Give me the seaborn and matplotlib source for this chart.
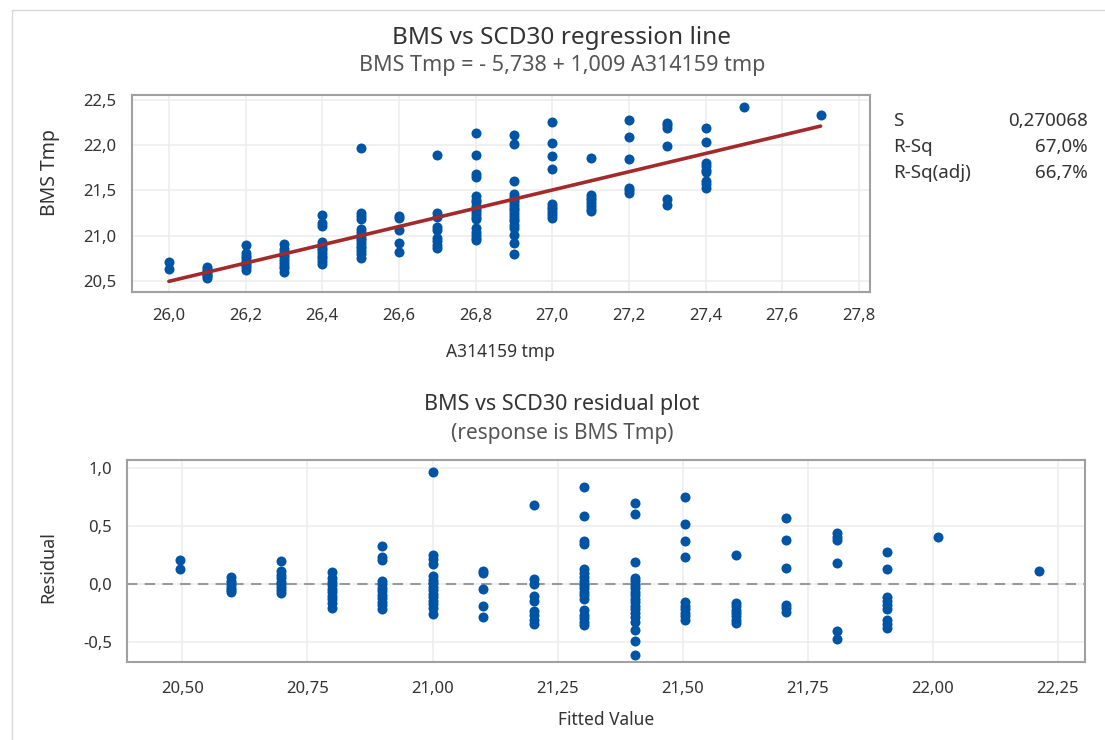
import numpy as np
import pandas as pd
import matplotlib
matplotlib.use("Agg")
import matplotlib.pyplot as plt
import seaborn as sns
from matplotlib.ticker import FuncFormatter, FixedLocator
from matplotlib.lines import Line2D

# ---------------- data ----------------
x_levels = [26.0, 26.1, 26.2, 26.3, 26.4, 26.5, 26.6, 26.7, 26.8, 26.9,
            27.0, 27.1, 27.2, 27.3, 27.4, 27.5, 27.7]
bms_26_0 = [20.71, 20.63]
bms_26_1 = [20.66, 20.63, 20.61, 20.59, 20.57, 20.55, 20.53]
bms_26_2 = [20.90, 20.81, 20.78, 20.75, 20.72, 20.70, 20.68, 20.65, 20.62]
bms_26_3 = [20.91, 20.85, 20.82, 20.79, 20.76, 20.73, 20.70, 20.67, 20.64, 20.60]
bms_26_4 = [21.23, 21.14, 21.11, 20.93, 20.90, 20.87, 20.84, 20.81, 20.78,
            20.75, 20.72, 20.69]
bms_26_5 = [21.97, 21.25, 21.22, 21.18, 21.07, 21.04, 21.01, 20.98, 20.95,
            20.92, 20.89, 20.86, 20.83, 20.80, 20.75]
bms_26_6 = [21.22, 21.20, 21.06, 20.92, 20.82]
bms_26_7 = [21.89, 21.25, 21.21, 21.10, 21.06, 20.97, 20.94, 20.90, 20.86]
bms_26_8 = [22.14, 21.89, 21.68, 21.65, 21.44, 21.40, 21.37, 21.33, 21.30,
            21.27, 21.24, 21.21, 21.18, 21.08, 21.04, 21.01, 20.98, 20.95]
bms_26_9 = [22.11, 22.01, 21.60, 21.46, 21.43, 21.40, 21.37, 21.34, 21.31,
            21.28, 21.25, 21.22, 21.19, 21.16, 21.12, 21.08, 21.01, 20.92, 20.80]
bms_27_0 = [22.26, 22.03, 21.88, 21.74, 21.35, 21.32, 21.29, 21.26, 21.23, 21.20]
bms_27_1 = [21.86, 21.45, 21.42, 21.39, 21.36, 21.33, 21.30, 21.27]
bms_27_2 = [22.28, 22.09, 21.85, 21.53, 21.50, 21.47]
bms_27_3 = [22.25, 22.22, 22.19, 21.99, 21.41, 21.34]
bms_27_4 = [22.19, 22.04, 21.80, 21.77, 21.73, 21.70, 21.60, 21.57, 21.53]
bms_27_5 = [22.42]
bms_27_7 = [22.33]
bms_groups = [bms_26_0, bms_26_1, bms_26_2, bms_26_3, bms_26_4, bms_26_5,
              bms_26_6, bms_26_7, bms_26_8, bms_26_9, bms_27_0, bms_27_1,
              bms_27_2, bms_27_3, bms_27_4, bms_27_5, bms_27_7]

intercept = -5.738
slope = 1.009

stats_labels = ["S", "R-Sq", "R-Sq(adj)"]
stats_values = ["0,270068", "67,0%", "66,7%"]

top_xticks = [26.0, 26.2, 26.4, 26.6, 26.8, 27.0, 27.2, 27.4, 27.6, 27.8]
top_yticks = [20.5, 21.0, 21.5, 22.0, 22.5]
res_xticks = [20.50, 20.75, 21.00, 21.25, 21.50, 21.75, 22.00, 22.25]
res_yticks = [-0.5, 0.0, 0.5, 1.0]

title_top = "BMS vs SCD30 regression line"
subtitle_top = "BMS Tmp = - 5,738 + 1,009 A314159 tmp"
title_bot = "BMS vs SCD30 residual plot"
subtitle_bot = "(response is BMS Tmp)"

# ---------------- derived tables ----------------
rows = [(x, y) for x, ys in zip(x_levels, bms_groups) for y in ys]
df = pd.DataFrame(rows, columns=["A314159 tmp", "BMS Tmp"])
df["Fitted Value"] = intercept + slope * df["A314159 tmp"]
df["Residual"] = df["BMS Tmp"] - df["Fitted Value"]
line_df = pd.DataFrame({"x": [min(x_levels), max(x_levels)]})
line_df["y"] = intercept + slope * line_df["x"]

# ---------------- style ----------------
sns.set_theme(style="white")
plt.rcParams["font.family"] = ["Noto Sans", "DejaVu Sans"]

BLUE = "#0054A6"
RED = "#A32A2A"
SPINE = "#A0A0A0"
GRID = "#EDEDED"
TXT = "#333333"

fig = plt.figure(figsize=(11.05, 7.40), dpi=100)
W, H = 1105.0, 740.0

def ax_rect(l, t, r, b):
    return [l / W, 1 - b / H, (r - l) / W, (b - t) / H]

ax1 = fig.add_axes(ax_rect(131.7, 95, 870, 292.3))
ax2 = fig.add_axes(ax_rect(127.3, 460, 1085, 662))

def comma_fmt(nd):
    return FuncFormatter(lambda v, p: f"{v:.{nd}f}".replace(".", ","))

def style_ax(ax, xt, yt, xnd, ynd, xpad):
    ax.xaxis.set_major_locator(FixedLocator(xt))
    ax.yaxis.set_major_locator(FixedLocator(yt))
    ax.xaxis.set_major_formatter(comma_fmt(xnd))
    ax.yaxis.set_major_formatter(comma_fmt(ynd))
    ax.grid(True, color=GRID, lw=1.2, zorder=0)
    ax.set_axisbelow(True)
    for s in ax.spines.values():
        s.set_color(SPINE)
        s.set_linewidth(1.5)
    ax.tick_params(axis="both", direction="out", length=5, width=1,
                   color="#888888", labelsize=12, labelcolor=TXT, pad=6)
    ax.tick_params(axis="x", pad=xpad)

# ---- top: regression ----
sns.scatterplot(data=df, x="A314159 tmp", y="BMS Tmp", ax=ax1, color=BLUE,
                s=52, linewidth=0, zorder=3)
sns.lineplot(data=line_df, x="x", y="y", ax=ax1, color=RED, lw=2.6, zorder=4)
ax1.set_xlim(25.903, 27.829)
ax1.set_ylim(20.375, 22.555)
style_ax(ax1, top_xticks, top_yticks, 1, 1, 6)
ax1.set_xlabel("A314159 tmp", fontsize=12.5, color=TXT)
ax1.set_ylabel("BMS Tmp", fontsize=14, color=TXT)
ax1.xaxis.set_label_coords(0.5, (292.3 - 352) / 197.3)
ax1.xaxis.label.set_va("center")
ax1.yaxis.set_label_coords((50 - 131.7) / 738.3, (292.3 - 172) / 197.3)
ax1.yaxis.label.set_va("center")

# ---- bottom: residuals ----
ax2.axhline(0, color="#9A9A9A", lw=1.5, ls=(0, (5, 3.5)), zorder=2)
sns.scatterplot(data=df, x="Fitted Value", y="Residual", ax=ax2, color=BLUE,
                s=52, linewidth=0, zorder=3)
ax2.set_xlim(20.39, 22.304)
ax2.set_ylim(-0.668, 1.072)
style_ax(ax2, res_xticks, res_yticks, 2, 1, 9)
ax2.set_xlabel("Fitted Value", fontsize=12.5, color=TXT)
ax2.set_ylabel("Residual", fontsize=13, color=TXT)
ax2.xaxis.set_label_coords(0.5, (662 - 720) / 202.0)
ax2.xaxis.label.set_va("center")
ax2.yaxis.set_label_coords((48 - 127.3) / 957.7, (662 - 567) / 202.0)
ax2.yaxis.label.set_va("center")

# ---- titles ----
cx = 562 / W
fig.text(cx, 1 - 38 / H, title_top, ha="center", va="center", fontsize=17.5, color=TXT)
fig.text(cx, 1 - 66 / H, subtitle_top, ha="center", va="center", fontsize=15.5, color="#555555")
fig.text(cx, 1 - 405 / H, title_bot, ha="center", va="center", fontsize=15.5, color=TXT)
fig.text(cx, 1 - 433 / H, subtitle_bot, ha="center", va="center", fontsize=15, color="#555555")

# ---- stats box ----
for i, (lab, val) in enumerate(zip(stats_labels, stats_values)):
    yy = 1 - (121 + 26 * i) / H
    fig.text(893 / W, yy, lab, ha="left", va="center", fontsize=13.5, color=TXT)
    fig.text(1088 / W, yy, val, ha="right", va="center", fontsize=13.5, color=TXT)

# ---- screenshot frame lines ----
fig.add_artist(Line2D([12 / W, 12 / W], [0, 1 - 10 / H], transform=fig.transFigure,
                      color="#D8D8D8", lw=1))
fig.add_artist(Line2D([12 / W, 1], [1 - 10 / H, 1 - 10 / H], transform=fig.transFigure,
                      color="#D8D8D8", lw=1))

fig.savefig("out.png", dpi=100)
